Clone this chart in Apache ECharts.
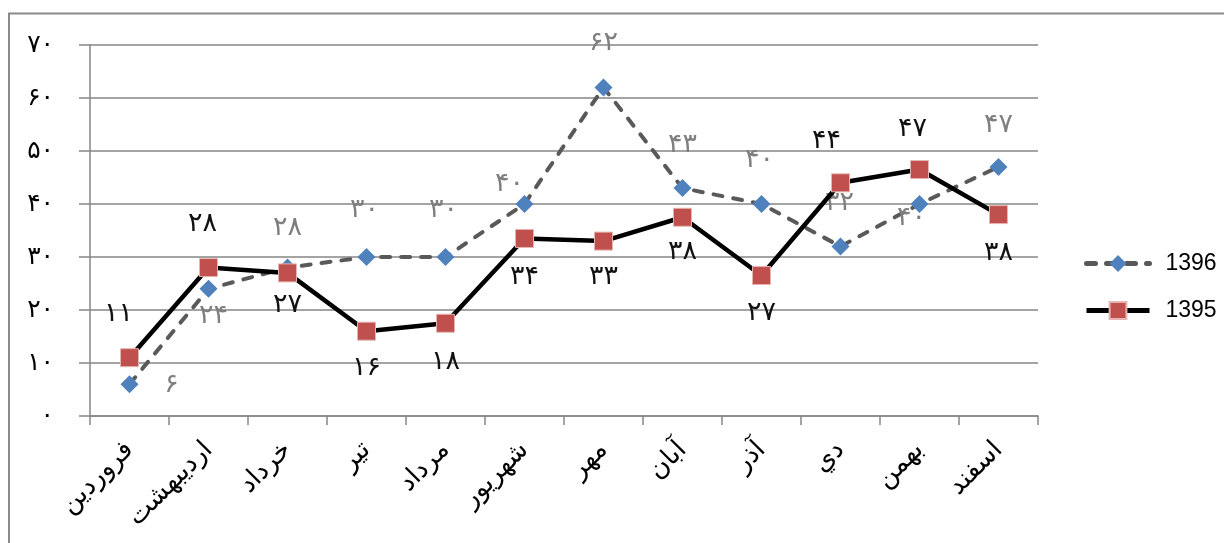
<!DOCTYPE html>
<html>
<head>
<meta charset="utf-8">
<script src="https://cdn.jsdelivr.net/npm/echarts@6.0.0/dist/echarts.min.js"></script>
<style>
  html, body { margin: 0; padding: 0; background: #fff; }
  #chart { width: 1224px; height: 543px; }
</style>
</head>
<body>
<div id="chart"></div>
<script>
// ---- data ----
var months = ['فروردين', 'ارديبهشت', 'خرداد', 'تير', 'مرداد', 'شهريور', 'مهر', 'آبان', 'آذر', 'دي', 'بهمن', 'اسفند'];
var seriesNames = ['1396', '1395'];
var values1396 = [6, 24, 28, 30, 30, 40, 62, 43, 40, 32, 40, 47];
var values1395 = [11, 28, 27, 16, 17.5, 33.5, 33, 37.5, 26.5, 44, 46.5, 38];
var yTicks = [0, 10, 20, 30, 40, 50, 60, 70];

// ---- label placement (style, offsets from marker centre in px) ----
var offsets1396 = [[42, 1], [5, 27], [0, -40], [-2, -47], [-2, -47], [-15, -20], [0, -44], [0, -43], [-2, -44], [-1, -43], [-8, 14], [0, -42]];
var offsets1395 = [[-11, -44], [-6, -44], [0, 32], [0, 37], [0, 39], [0, 39], [0, 36], [0, 35], [0, 37], [-14, -42], [-7, -41], [0, 38]];

var faDigits = '۰۱۲۳۴۵۶۷۸۹';
function toFa(n) {
  return String(Math.round(n)).replace(/[0-9]/g, function (d) { return faDigits[+d]; });
}

function build(vals, offs) {
  return vals.map(function (v, i) {
    return { value: v, label: { offset: offs[i] } };
  });
}

var chart = echarts.init(document.getElementById('chart'));
var gray = '#868686';
chart.setOption({
  animation: false,
  backgroundColor: '#fff',
  graphic: [{
    type: 'rect',
    shape: { x: 9, y: 13.5, width: 1260, height: 600 },
    style: { fill: 'none', stroke: '#8a8a8a', lineWidth: 2 },
    silent: true,
    z: -1
  }],
  grid: { left: 90, right: 186, top: 45, bottom: 127 },
  legend: {
    orient: 'vertical',
    left: 1079,
    top: 247,
    itemWidth: 63,
    itemHeight: 21,
    itemGap: 24,
    data: seriesNames,
    lineStyle: { width: 5 },
    textStyle: {
      fontFamily: 'Liberation Sans',
      fontSize: 23,
      color: '#000',
      padding: [0, 0, 0, 11]
    }
  },
  xAxis: {
    type: 'category',
    data: months,
    boundaryGap: true,
    axisLine: { lineStyle: { color: gray, width: 1.5 } },
    axisTick: { show: true, length: 9, interval: 0, lineStyle: { color: gray, width: 1.5 } },
    axisLabel: {
      interval: 0,
      rotate: 45,
      margin: 30,
      fontFamily: 'DejaVu Sans',
      fontSize: 26,
      color: '#000'
    }
  },
  yAxis: {
    type: 'value',
    min: yTicks[0],
    max: yTicks[yTicks.length - 1],
    interval: yTicks[1] - yTicks[0],
    axisLine: { show: true, lineStyle: { color: gray, width: 1.5 } },
    axisTick: { show: true, length: 11, lineStyle: { color: gray, width: 1.5 } },
    splitLine: { show: true, lineStyle: { color: gray, width: 1.5 } },
    axisLabel: {
      margin: 36,
      fontFamily: 'DejaVu Sans',
      fontSize: 25,
      color: '#000',
      formatter: function (v) { return toFa(v); }
    }
  },
  series: [
    {
      name: seriesNames[0],
      type: 'line',
      z: 2,
      data: build(values1396, offsets1396),
      symbol: 'diamond',
      symbolSize: 18,
      itemStyle: { color: '#4F81BD' },
      lineStyle: { color: '#595959', width: 4, type: [9, 11], cap: 'round' },
      label: {
        show: true,
        position: 'inside',
        fontFamily: 'DejaVu Sans',
        fontSize: 27,
        color: '#7f7f7f',
        formatter: function (p) { return toFa(p.value); }
      }
    },
    {
      name: seriesNames[1],
      type: 'line',
      z: 3,
      data: build(values1395, offsets1395),
      symbol: 'rect',
      symbolSize: 18,
      itemStyle: { color: '#C0504D', borderColor: '#e6b4b3', borderWidth: 1 },
      lineStyle: { color: '#000', width: 4.5 },
      label: {
        show: true,
        position: 'inside',
        fontFamily: 'DejaVu Sans',
        fontSize: 27,
        color: '#111',
        formatter: function (p) { return toFa(p.value); }
      }
    }
  ]
});
</script>
</body>
</html>
